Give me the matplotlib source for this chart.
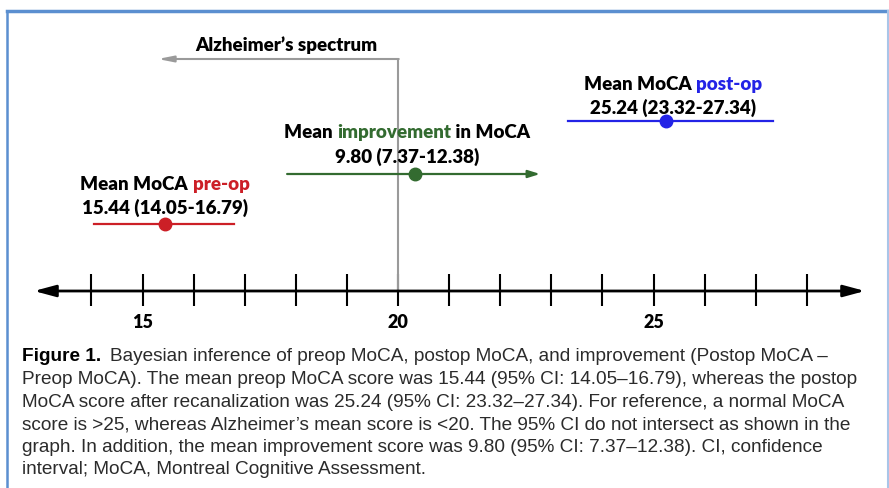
import matplotlib
matplotlib.use("Agg")
import matplotlib.pyplot as plt
from matplotlib.lines import Line2D

# --------------------------------------------------
# Data (MoCA scores)
# --------------------------------------------------
tick_values = list(range(14, 29))
tick_labels = {15: "15", 20: "20", 25: "25"}

preop_mean, preop_lo, preop_hi = 15.44, 14.05, 16.79
postop_mean, postop_lo, postop_hi = 25.24, 23.32, 27.34
impr_mean, impr_lo, impr_hi = 9.80, 7.37, 12.38
# where the improvement arrow is drawn on the number line (illustrative)
impr_draw = [17.83, 20.33, 22.78]

alzheimer_cut = 20
alzheimer_arrow_end = 15.3

# colors
red = "#cc1f26"
green = "#336b30"
blue = "#2323e6"
grey = "#9a9a9a"
frame_blue = "#5b8fd0"

W, H = 889, 489
fig = plt.figure(figsize=(W / 100, H / 100), dpi=100)
ax = fig.add_axes([0, 0, 1, 1])
# x in MoCA units, y in pixels from top
px_per_unit = 51.1
ax.set_xlim(20 - 398 / px_per_unit, 20 + (W - 398) / px_per_unit)
ax.set_ylim(H, 0)
ax.axis("off")

label_font = ["Lato", "DejaVu Sans"]
cap_font = ["Liberation Sans", "DejaVu Sans"]
bold = "heavy"

# --------------------------------------------------
# Number line
# --------------------------------------------------
axis_y = 292
left_end = 20 - (398 - 34) / px_per_unit
right_end = 20 + (865 - 398) / px_per_unit
ax.annotate("", xy=(left_end, axis_y), xytext=(right_end, axis_y),
            arrowprops=dict(arrowstyle="<|-|>,head_length=1.3,head_width=0.35",
                            color="black", lw=2, shrinkA=0, shrinkB=0))
ax.vlines(tick_values, axis_y - 17, axis_y + 15, color="black", lw=1.5)
for v, s in tick_labels.items():
    ax.text(v, 322, s, ha="center", va="center", fontsize=13,
            fontweight=bold, family=label_font)

# Alzheimer's spectrum marker
ax.plot([alzheimer_cut, alzheimer_cut], [axis_y, 60], color=grey, lw=1.5,
        solid_capstyle="butt")
ax.annotate("", xy=(alzheimer_arrow_end, 60), xytext=(alzheimer_cut + 0.015, 60),
            arrowprops=dict(arrowstyle="-|>,head_length=0.9,head_width=0.18",
                            color=grey, lw=1.5, shrinkA=0, shrinkB=0))

# Pre-op CI
ax.plot([preop_lo, preop_hi], [225, 225], color=red, lw=1.6)
ax.plot(preop_mean, 225, "o", color=red, ms=9)

# Post-op CI
ax.plot([postop_lo, postop_hi], [122, 122], color=blue, lw=1.6)
ax.plot(postop_mean, 122, "o", color=blue, ms=9)

# Improvement arrow
ax.annotate("", xy=(impr_draw[2], 175), xytext=(impr_draw[0], 175),
            arrowprops=dict(arrowstyle="-|>,head_length=0.7,head_width=0.22",
                            color=green, lw=1.6, shrinkA=0, shrinkB=0))
ax.plot(impr_draw[1], 175, "o", color=green, ms=9)

# --------------------------------------------------
# Rich text helper (pixel coordinates, origin top-left)
# --------------------------------------------------
renderer = fig.canvas.get_renderer()


def text_width(s, size, weight, family):
    t = fig.text(0, 0, s + "|", fontsize=size, fontweight=weight, family=family,
                 transform=None)
    bar = fig.text(0, 0, "|", fontsize=size, fontweight=weight, family=family,
                   transform=None)
    w = t.get_window_extent(renderer).width - bar.get_window_extent(renderer).width
    t.remove()
    bar.remove()
    return w


def rich_line(xc, y, parts, size=13.5, family=label_font, ha="center", gap=0):
    offsets = []
    x = 0
    for s, c, w in parts:
        offsets.append(x)
        x += text_width(s, size, w, family) + gap
    total = x - gap
    x0 = xc - total / 2 if ha == "center" else xc
    for (s, c, w), off in zip(parts, offsets):
        fig.text(x0 + off, H - y, s, color=c, fontsize=size, fontweight=w,
                 family=family, va="center", ha="left", transform=None)


k = "black"
rich_line(286, 45, [("Alzheimer\u2019s spectrum", k, bold)])
rich_line(165, 185, [("Mean MoCA ", k, bold), ("pre-op", red, bold)])
rich_line(165, 208, [(f"{preop_mean:.2f} ({preop_lo:.2f}-{preop_hi:.2f})", k, bold)])
rich_line(407, 133, [("Mean ", k, bold), ("improvement", green, bold),
                     (" in MoCA", k, bold)])
rich_line(407, 157, [(f"{impr_mean:.2f} ({impr_lo:.2f}-{impr_hi:.2f})", k, bold)])
rich_line(673, 85, [("Mean MoCA ", k, bold), ("post-op", blue, bold)])
rich_line(673, 108, [(f"{postop_mean:.2f} ({postop_lo:.2f}-{postop_hi:.2f})", k, bold)])

# --------------------------------------------------
# Caption
# --------------------------------------------------
caption = [
    "Bayesian inference of preop MoCA, postop MoCA, and improvement (Postop MoCA \u2013",
    "Preop MoCA). The mean preop MoCA score was 15.44 (95% CI: 14.05\u201316.79), whereas the postop",
    "MoCA score after recanalization was 25.24 (95% CI: 23.32\u201327.34). For reference, a normal MoCA",
    "score is >25, whereas Alzheimer\u2019s mean score is <20. The 95% CI do not intersect as shown in the",
    "graph. In addition, the mean improvement score was 9.80 (95% CI: 7.37\u201312.38). CI, confidence",
    "interval; MoCA, Montreal Cognitive Assessment.",
]
cap_size = 13.7
cap_grey = "#2b2b2b"
rich_line(22, 357, [("Figure 1.", k, "bold"), (caption[0], cap_grey, "normal")],
          size=cap_size, family=cap_font, ha="left", gap=9)
for i, line in enumerate(caption[1:], start=1):
    fig.text(22, H - (357 + i * 22.6), line, color=cap_grey, fontsize=cap_size,
             family=cap_font, va="center", ha="left", transform=None)

# --------------------------------------------------
# Frame
# --------------------------------------------------
fig.add_artist(Line2D([7, W], [H - 12, H - 12], color=frame_blue, lw=2.5,
                      transform=None))
fig.add_artist(Line2D([7, 7], [0, H - 12], color=frame_blue, lw=1.8,
                      transform=None))
fig.add_artist(Line2D([W - 1, W - 1], [0, H - 12], color="#a9c5e8", lw=1.5,
                      transform=None))

fig.savefig("out.png", dpi=100)
